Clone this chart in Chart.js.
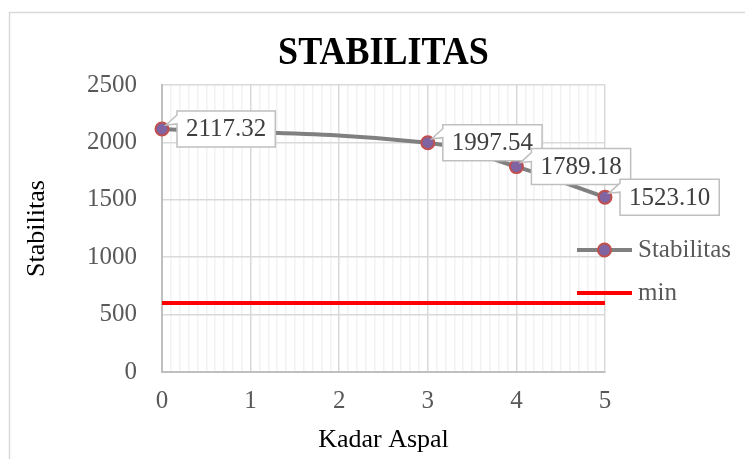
<!DOCTYPE html>
<html>
<head>
<meta charset="utf-8">
<script src="https://cdn.jsdelivr.net/npm/chart.js@4.4.1/dist/chart.umd.min.js"></script>
<style>
  html, body { margin: 0; padding: 0; background: #fff; }
  #wrap { width: 745px; height: 459px; }
</style>
</head>
<body>
<div id="wrap"><canvas id="stabChart" width="745" height="459"></canvas></div>
<script>
// data
const kadarAspal = [0, 3, 4, 5];
const stabilitas = [2117.32, 1997.54, 1789.18, 1523.10];
const minX = [0, 5];
const minY = [600, 600];
const xTicks = [0, 1, 2, 3, 4, 5];
const yTicks = [0, 500, 1000, 1500, 2000, 2500];
const chartTitle = 'STABILITAS';
const seriesNames = ['Stabilitas', 'min'];

const SERIF = '"Liberation Serif", "Times New Roman", serif';
const GREY_TXT = '#595959';

const isMajorX = v => xTicks.some(t => Math.abs(t - v) < 1e-9);

const decor = {
  id: 'decor',
  beforeDraw(chart) {
    const ctx = chart.ctx;
    ctx.save();
    ctx.fillStyle = '#fff';
    ctx.fillRect(0, 0, chart.width, chart.height);
    ctx.strokeStyle = '#d9d9d9';
    ctx.lineWidth = 1.5;
    ctx.strokeRect(9.5, 12.5, 800, 500);
    ctx.restore();
  },
  afterDatasetsDraw(chart) {
    // callout boxes with values
    const ctx = chart.ctx;
    const meta = chart.getDatasetMeta(0);
    ctx.save();
    ctx.font = '25px ' + SERIF;
    meta.data.forEach((pt, i) => {
      const txt = stabilitas[i].toFixed(2);
      const tw = ctx.measureText(txt).width;
      const bw = tw + 18, bh = 36;
      const bx = pt.x + 15, by = pt.y - bh / 2;
      ctx.beginPath();
      ctx.moveTo(bx, by);
      ctx.lineTo(bx + bw, by);
      ctx.lineTo(bx + bw, by + bh);
      ctx.lineTo(bx, by + bh);
      ctx.lineTo(bx, by + 13);
      ctx.lineTo(pt.x + 4, pt.y - 4);
      ctx.lineTo(bx, by + 4);
      ctx.closePath();
      ctx.fillStyle = '#fff';
      ctx.fill();
      ctx.strokeStyle = '#bfbfbf';
      ctx.lineWidth = 1.5;
      ctx.stroke();
      ctx.fillStyle = '#404040';
      ctx.textAlign = 'center';
      ctx.textBaseline = 'middle';
      ctx.fillText(txt, bx + bw / 2, by + bh / 2 + 1);
    });
    ctx.restore();
  },
  afterDraw(chart) {
    const ctx = chart.ctx;
    const ca = chart.chartArea;
    ctx.save();
    // title
    ctx.font = 'bold 40px ' + SERIF;
    ctx.fillStyle = '#000';
    ctx.textAlign = 'center';
    ctx.textBaseline = 'middle';
    ctx.translate((ca.left + ca.right) / 2, 54);
    ctx.scale(0.9, 1);
    ctx.fillText(chartTitle, 0, 0);
    ctx.setTransform(1, 0, 0, 1, 0, 0);

    // legend
    const lx0 = ca.right - 28, lx1 = ca.right + 27;
    const ly = [250, 293];
    ctx.lineCap = 'butt';
    ctx.strokeStyle = '#808080';
    ctx.lineWidth = 4;
    ctx.beginPath(); ctx.moveTo(lx0, ly[0]); ctx.lineTo(lx1, ly[0]); ctx.stroke();
    ctx.beginPath();
    ctx.arc((lx0 + lx1) / 2, ly[0], 6.5, 0, Math.PI * 2);
    ctx.fillStyle = '#8064A2';
    ctx.fill();
    ctx.strokeStyle = '#C0504D';
    ctx.lineWidth = 2;
    ctx.stroke();
    ctx.strokeStyle = '#FF0000';
    ctx.lineWidth = 4;
    ctx.beginPath(); ctx.moveTo(lx0, ly[1]); ctx.lineTo(lx1, ly[1]); ctx.stroke();
    ctx.font = '25px ' + SERIF;
    ctx.fillStyle = GREY_TXT;
    ctx.textAlign = 'left';
    ctx.textBaseline = 'middle';
    ctx.fillText(seriesNames[0], lx1 + 6, ly[0]);
    ctx.fillText(seriesNames[1], lx1 + 6, ly[1]);
    ctx.restore();
  }
};

new Chart(document.getElementById('stabChart'), {
  type: 'line',
  data: {
    datasets: [{
      label: seriesNames[0],
      data: kadarAspal.map((x, i) => ({ x: x, y: stabilitas[i] })),
      borderColor: '#808080',
      borderWidth: 4,
      tension: 0.4,
      pointRadius: 6.5,
      pointBorderWidth: 2,
      pointBackgroundColor: '#8064A2',
      pointBorderColor: '#C0504D',
      clip: false
    }, {
      label: seriesNames[1],
      data: minX.map((x, i) => ({ x: x, y: minY[i] })),
      borderColor: '#FF0000',
      borderWidth: 4,
      pointRadius: 0,
      tension: 0,
      clip: false
    }]
  },
  options: {
    responsive: false,
    animation: false,
    layout: { padding: { left: 10, right: 140, top: 85, bottom: 0 } },
    plugins: {
      legend: { display: false },
      title: { display: false },
      tooltip: { enabled: false }
    },
    scales: {
      x: {
        type: 'linear',
        min: 0,
        max: 5,
        afterFit: s => { s.height = 87; },
        ticks: {
          stepSize: 0.1,
          autoSkip: false,
          maxRotation: 0,
          padding: 14,
          color: GREY_TXT,
          font: { family: SERIF, size: 25 },
          callback: v => isMajorX(v) ? String(Math.round(v)) : ''
        },
        grid: {
          drawTicks: false,
          lineWidth: 1.5,
          color: c => (c.tick && isMajorX(c.tick.value)) ? '#d9d9d9' : '#f2f2f2'
        },
        border: { color: '#bfbfbf', width: 2 },
        title: {
          display: true,
          text: 'Kadar Aspal',
          color: '#000',
          font: { family: SERIF, size: 26 },
          padding: { top: 0, bottom: 3 }
        }
      },
      y: {
        min: yTicks[0],
        max: yTicks[yTicks.length - 1],
        afterFit: s => { s.width = 152; },
        afterBuildTicks: s => { s.ticks = yTicks.map(v => ({ value: v })); },
        ticks: {
          padding: 25,
          color: GREY_TXT,
          font: { family: SERIF, size: 25 },
          callback: v => String(v)
        },
        grid: { drawTicks: false, lineWidth: 1.5, color: '#d9d9d9' },
        border: { color: '#bfbfbf', width: 2 },
        title: {
          display: true,
          text: 'Stabilitas',
          color: '#000',
          font: { family: SERIF, size: 26 },
          padding: { top: 12, bottom: 0 }
        }
      }
    }
  },
  plugins: [decor]
});
</script>
</body>
</html>
